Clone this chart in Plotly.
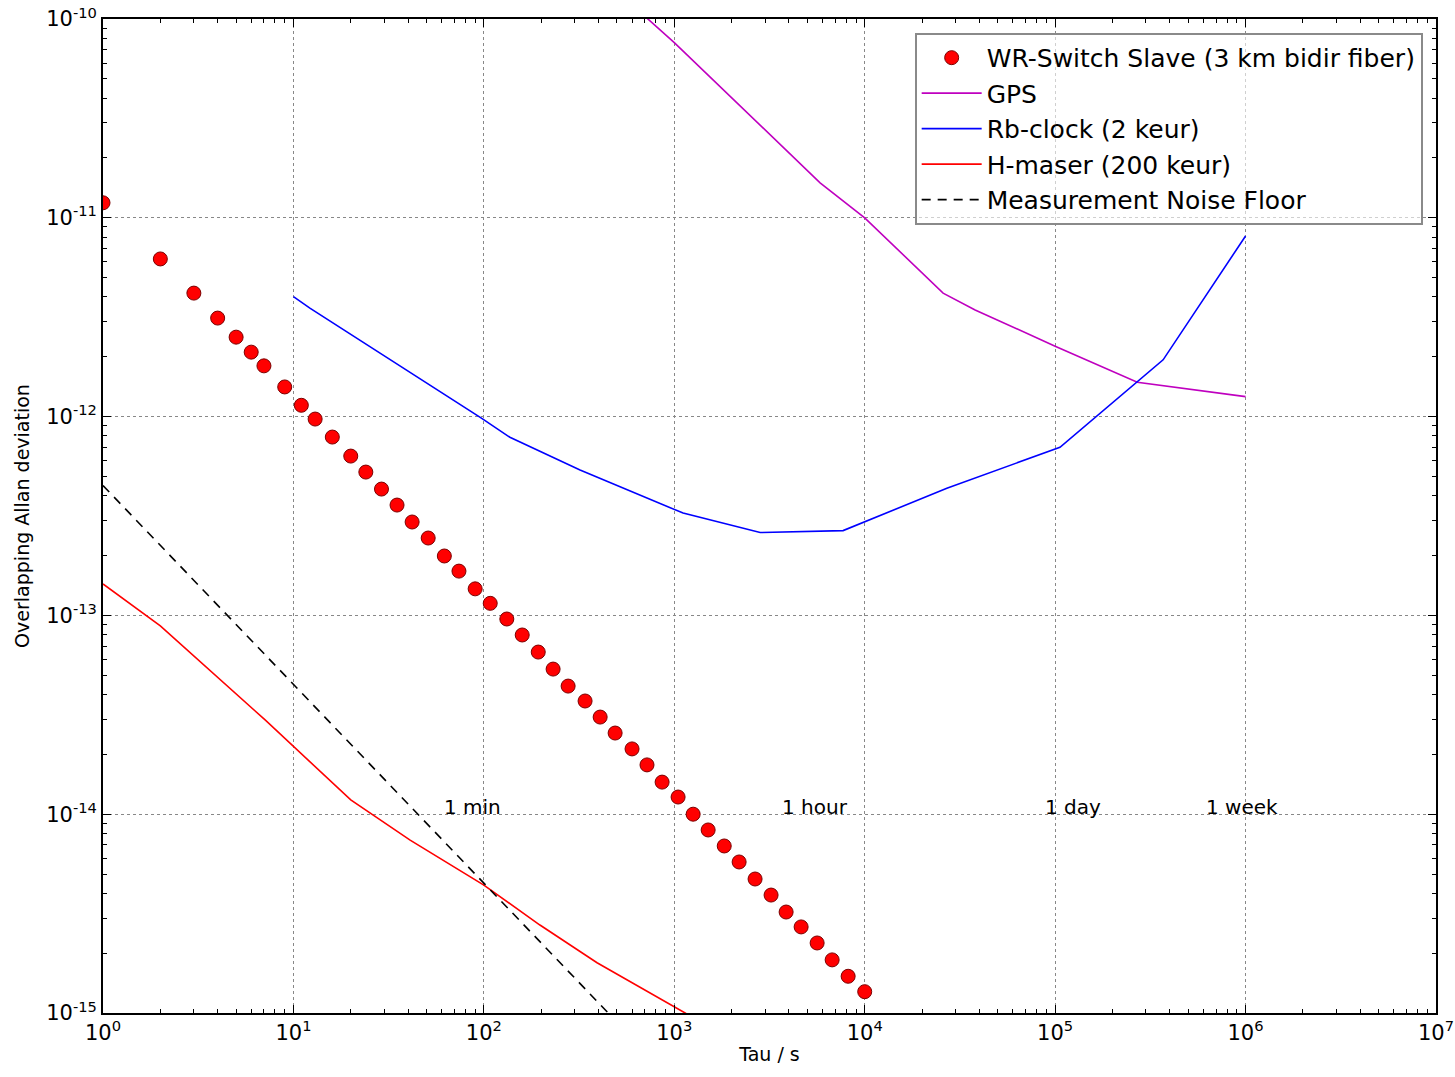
import plotly.graph_objects as go
import numpy as np

# ---- data ----
wr_tau = [1, 2, 3, 4, 5, 6, 7, 9, 11, 13, 16, 20, 24, 29, 35, 42, 51, 62, 74, 90,
          108, 132, 159, 193, 231, 277, 340, 408, 489, 600, 719, 863, 1047, 1256,
          1506, 1829, 2190, 2656, 3223, 3866, 4635, 5625, 6745, 8184, 10000]
wr_adev = [1.19e-11, 6.21e-12, 4.18e-12, 3.13e-12, 2.51e-12, 2.11e-12, 1.80e-12, 1.41e-12,
           1.14e-12, 9.72e-13, 7.89e-13, 6.33e-13, 5.26e-13, 4.32e-13, 3.59e-13, 2.95e-13,
           2.45e-13, 1.99e-13, 1.67e-13, 1.36e-13, 1.15e-13, 9.59e-14, 7.97e-14, 6.54e-14,
           5.37e-14, 4.41e-14, 3.71e-14, 3.08e-14, 2.56e-14, 2.13e-14, 1.77e-14, 1.45e-14,
           1.22e-14, 1.00e-14, 8.33e-15, 6.92e-15, 5.75e-15, 4.72e-15, 3.92e-15, 3.22e-15,
           2.71e-15, 2.25e-15, 1.85e-15, 1.53e-15, 1.28e-15]

gps_tau = [500, 1000, 5830, 10000, 25800, 38000, 100000, 270000, 1000000]
gps_adev = [1.38e-10, 7.6e-11, 1.50e-11, 1.0e-11, 4.18e-12, 3.44e-12, 2.26e-12, 1.49e-12, 1.26e-12]

rb_tau = [10, 12.2, 97.5, 137, 320, 1112, 2824, 7700, 27000, 106000, 369000, 1000000]
rb_adev = [4.01e-12, 3.51e-12, 9.8e-13, 7.87e-13, 5.39e-13, 3.27e-13, 2.61e-13, 2.67e-13,
           4.36e-13, 7.01e-13, 1.93e-12, 8.1e-12]

hm_tau = [1, 2, 7.1, 20, 41, 100, 197, 393, 1140, 1740]
hm_adev = [1.44e-13, 8.85e-14, 2.98e-14, 1.18e-14, 7.4e-15, 4.4e-15, 2.77e-15, 1.79e-15, 1.0e-15, 7.9e-16]

nf_tau = [1, 1000]
nf_adev = [4.5e-13, 4.5e-16]

x_tickvals = [1, 10, 100, 1000, 1e4, 1e5, 1e6, 1e7]
x_ticktext = ["10<sup>0</sup>", "10<sup>1</sup>", "10<sup>2</sup>", "10<sup>3</sup>",
              "10<sup>4</sup>", "10<sup>5</sup>", "10<sup>6</sup>", "10<sup>7</sup>"]
y_tickvals = [1e-15, 1e-14, 1e-13, 1e-12, 1e-11, 1e-10]
y_ticktext = ["10<sup>-15</sup>", "10<sup>-14</sup>", "10<sup>-13</sup>",
              "10<sup>-12</sup>", "10<sup>-11</sup>", "10<sup>-10</sup>"]

time_labels = ["1 min", "1 hour", "1 day", "1 week"]
time_tau = [60, 3600, 86400, 604800]

FONT = "DejaVu Sans"

fig = go.Figure()
fig.add_trace(go.Scatter(x=wr_tau, y=wr_adev, mode="markers",
                         name="WR-Switch Slave (3 km bidir fiber)",
                         marker=dict(color="#ff0000", size=14,
                                     line=dict(color="#7a0000", width=1))))
fig.add_trace(go.Scatter(x=gps_tau, y=gps_adev, mode="lines", name="GPS",
                         line=dict(color="#bf00bf", width=1.6)))
fig.add_trace(go.Scatter(x=rb_tau, y=rb_adev, mode="lines", name="Rb-clock (2 keur)",
                         line=dict(color="#0000ff", width=1.6)))
fig.add_trace(go.Scatter(x=hm_tau, y=hm_adev, mode="lines", name="H-maser (200 keur)",
                         line=dict(color="#ff0000", width=1.6)))
fig.add_trace(go.Scatter(x=nf_tau, y=nf_adev, mode="lines", name="Measurement Noise Floor",
                         line=dict(color="black", width=1.6, dash="9px,7px")))

for lab, t in zip(time_labels, time_tau):
    fig.add_annotation(x=np.log10(t), y=-14, xref="x", yref="y", text=lab,
                       showarrow=False, xanchor="left", yanchor="bottom", yshift=-7,
                       font=dict(family=FONT, size=20, color="black"))

x_minor = [m * 10 ** e for e in range(0, 7) for m in range(2, 10)]
y_minor = [m * 10.0 ** e for e in range(-15, -10) for m in range(2, 10)]

axis_common = dict(type="log", showline=True, linecolor="black", linewidth=1.8,
                   mirror="allticks", ticks="inside", ticklen=8, tickwidth=1.2,
                   tickcolor="black", showgrid=True, gridcolor="#888888",
                   griddash="dot", gridwidth=1.2, zeroline=False,
                   tickfont=dict(family=FONT, size=21, color="black"))

fig.update_xaxes(range=[-0.00005, 7.00005], tickmode="array", tickvals=x_tickvals,
                 ticktext=x_ticktext,
                 minor=dict(tickmode="array", tickvals=x_minor, ticks="inside", ticklen=4,
                            tickcolor="black", showgrid=False),
                 title=dict(text="Tau / s", font=dict(family=FONT, size=19, color="black"),
                            standoff=4),
                 **axis_common)
fig.update_yaxes(range=[-15.00005, -9.99995], tickmode="array", tickvals=y_tickvals,
                 ticktext=y_ticktext,
                 minor=dict(tickmode="array", tickvals=y_minor, ticks="inside", ticklen=4,
                            tickcolor="black", showgrid=False),
                 title=dict(text="Overlapping Allan deviation",
                            font=dict(family=FONT, size=19, color="black"), standoff=12),
                 **axis_common)

fig.update_layout(
    width=1455, height=1077,
    margin=dict(l=103, r=19, t=19, b=64, autoexpand=False),
    plot_bgcolor="white", paper_bgcolor="white",
    font=dict(family=FONT, color="black"),
    legend=dict(x=0.99, y=0.986, xanchor="right", yanchor="top",
                bgcolor="rgba(255,255,255,0.6)", bordercolor="#8a8a8a", borderwidth=2,
                font=dict(family=FONT, size=25, color="black"),
                itemwidth=60, tracegroupgap=0),
    showlegend=True,
)

# remove the default page margin so the figure starts at the window's corner
fig.write_html("out.html", config={"displayModeBar": False},
               post_script="document.body.style.margin='0';document.body.style.overflow='hidden';")
